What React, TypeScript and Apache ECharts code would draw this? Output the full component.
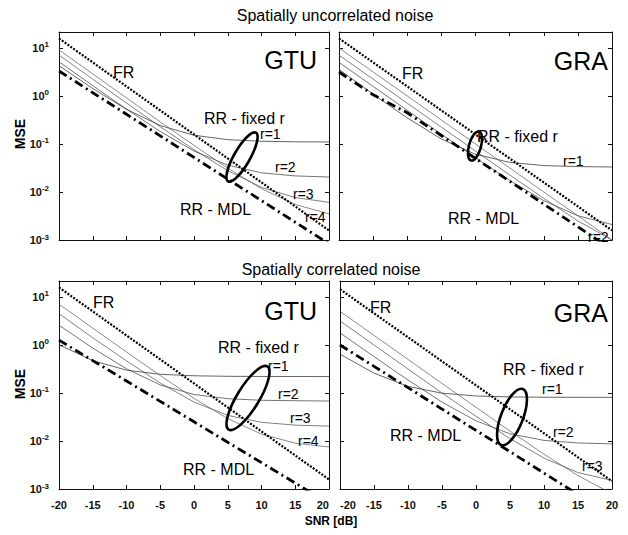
import React, { useEffect, useRef } from "react";
import * as echarts from "echarts";

// SNR grid (dB)
const snr = [-20, -15, -10, -5, 0, 5, 10, 15, 20];
const xTicks = [-20, -15, -10, -5, 0, 5, 10, 15, 20];

// Spatially uncorrelated noise, GTU
const gtuUncFR = [15.8, 5.0, 1.58, 0.5, 0.158, 0.05, 0.0158, 0.005, 0.00158];
const gtuUncMDL = [3.31, 1.17, 0.417, 0.148, 0.0525, 0.0186, 0.0066, 0.00234, 0.00083];
const gtuUncR1 = [4.28, 1.43, 0.527, 0.242, 0.152, 0.123, 0.114, 0.111, 0.11];
const gtuUncR2 = [5.15, 1.64, 0.533, 0.182, 0.0713, 0.0362, 0.0251, 0.0216, 0.0205];
const gtuUncR3 = [7.09, 2.24, 0.713, 0.229, 0.0762, 0.0278, 0.0125, 0.00764, 0.0061];
const gtuUncR4 = [9.12, 2.88, 0.912, 0.288, 0.0938, 0.0314, 0.0117, 0.0055, 0.0035];

// Spatially uncorrelated noise, GRA
const graUncFR = [15.8, 5.0, 1.58, 0.5, 0.158, 0.05, 0.0158, 0.005, 0.00158];
const graUncMDL = [3.16, 1.06, 0.447, 0.15, 0.05, 0.0168, 0.0056, 0.00188, 0.00063];
const graUncR1 = [3.58, 1.09, 0.349, 0.127, 0.061, 0.0414, 0.0355, 0.0338, 0.0332];
const graUncR2 = [5.01, 1.585, 0.503, 0.16, 0.0517, 0.0174, 0.0066, 0.0032, 0.0021];
const graUncR3 = [7.08, 2.24, 0.708, 0.224, 0.0711, 0.0227, 0.0074, 0.0025, 0.001];
const graUncR4 = [10, 3.16, 1.0, 0.316, 0.1, 0.0317, 0.01, 0.0032, 0.001];

// Spatially correlated noise, GTU
const gtuCorFR = [15.8, 5.0, 1.58, 0.5, 0.158, 0.05, 0.0158, 0.005, 0.00158];
const gtuCorMDL = [1.26, 0.473, 0.178, 0.0668, 0.0251, 0.0094, 0.00355, 0.00133, 0.0005];
const gtuCorR1 = [1.01, 0.471, 0.299, 0.245, 0.228, 0.2225, 0.2208, 0.2203, 0.22];
const gtuCorR2 = [2.58, 0.862, 0.319, 0.147, 0.093, 0.076, 0.0705, 0.069, 0.068];
const gtuCorR3 = [4.49, 1.41, 0.467, 0.161, 0.0647, 0.0341, 0.0245, 0.0214, 0.0204];
const gtuCorR4 = [7.08, 2.24, 0.715, 0.231, 0.0776, 0.0292, 0.0139, 0.009, 0.0075];

// Spatially correlated noise, GRA
const graCorFR = [14.5, 4.57, 1.45, 0.457, 0.145, 0.0457, 0.0145, 0.00457, 0.00145];
const graCorMDL = [1.0, 0.359, 0.129, 0.0462, 0.0166, 0.006, 0.00214, 0.00077, 0.00028];
const graCorR1 = [0.643, 0.259, 0.137, 0.099, 0.0866, 0.0828, 0.0816, 0.0812, 0.081];
const graCorR2 = [1.79, 0.571, 0.186, 0.0647, 0.0263, 0.0141, 0.0103, 0.0091, 0.0087];
const graCorR3 = [3.16, 1.0, 0.316, 0.1, 0.0328, 0.0112, 0.0044, 0.0022, 0.0015];
const graCorR4 = [5.01, 1.585, 0.501, 0.158, 0.0504, 0.0161, 0.0053, 0.0019, 0.0008];

const panelTitles = ["Spatially uncorrelated noise", "Spatially correlated noise"];
const panelNames = ["GTU", "GRA", "GTU", "GRA"];

const panels = [
  { fr: gtuUncFR, mdl: gtuUncMDL, rs: [gtuUncR1, gtuUncR2, gtuUncR3, gtuUncR4] },
  { fr: graUncFR, mdl: graUncMDL, rs: [graUncR1, graUncR2, graUncR3, graUncR4] },
  { fr: gtuCorFR, mdl: gtuCorMDL, rs: [gtuCorR1, gtuCorR2, gtuCorR3, gtuCorR4] },
  { fr: graCorFR, mdl: graCorMDL, rs: [graCorR1, graCorR2, graCorR3, graCorR4] },
];

const FONT = "'Liberation Sans', Arial, Helvetica, sans-serif";

export default function App() {
  const ref = useRef<HTMLDivElement>(null);
  useEffect(() => {
    if (!ref.current) return;
    const chart = echarts.init(ref.current, null, { renderer: "svg" });

    const gridPos = [
      { left: 59, top: 32, width: 270, height: 208 },
      { left: 339, top: 32, width: 273, height: 208 },
      { left: 59, top: 281, width: 270, height: 208 },
      { left: 340, top: 281, width: 272, height: 208 },
    ];

    const axisLine = { show: true, onZero: false, lineStyle: { color: "#111", width: 1 } };
    const tick = { show: true, inside: true, length: 4, lineStyle: { color: "#111" } };

    const xAxis: any[] = [];
    const yAxis: any[] = [];
    gridPos.forEach((g, i) => {
      const bottomRow = i >= 2;
      const leftCol = i % 2 === 0;
      xAxis.push({
        type: "value",
        gridIndex: i,
        min: -20,
        max: 20,
        interval: 5,
        position: "bottom",
        axisLine,
        axisTick: tick,
        splitLine: { show: false },
        axisLabel: {
          show: bottomRow,
          margin: 10,
          fontFamily: FONT,
          fontWeight: "bold",
          fontSize: 11,
          color: "#111",
          alignMaxLabel: leftCol ? "right" : "center",
          alignMinLabel: leftCol ? "center" : "left",
          formatter: (v: number) => (xTicks.includes(v) ? String(v) : ""),
        },
      });
      xAxis.push({
        type: "value",
        gridIndex: i,
        min: -20,
        max: 20,
        interval: 5,
        position: "top",
        axisLine,
        axisTick: tick,
        splitLine: { show: false },
        axisLabel: { show: false },
      });
      yAxis.push({
        type: "log",
        logBase: 10,
        gridIndex: i,
        min: 0.001,
        max: 21.5,
        position: "left",
        axisLine,
        axisTick: tick,
        splitLine: { show: false },
        axisLabel: {
          show: leftCol,
          margin: 10,
          fontFamily: FONT,
          fontWeight: "bold",
          fontSize: 11,
          color: "#111",
          formatter: (v: number) => {
            const l = Math.log10(v);
            const k = Math.round(l);
            if (Math.abs(l - k) > 1e-6) return "";
            return "10{sup|" + k + "}";
          },
          rich: {
            sup: { fontSize: 8, fontFamily: FONT, fontWeight: "bold", padding: [0, 0, 6, 0], color: "#111" },
          },
        },
      });
      yAxis.push({
        type: "log",
        logBase: 10,
        gridIndex: i,
        min: 0.001,
        max: 21.5,
        position: "right",
        axisLine,
        axisTick: tick,
        splitLine: { show: false },
        axisLabel: { show: false },
      });
    });

    const series: any[] = [];
    const rColors = ["#222", "#3a3a3a", "#4a4a4a", "#5a5a5a"];
    panels.forEach((p, i) => {
      const base = { type: "line", xAxisIndex: 2 * i, yAxisIndex: 2 * i, showSymbol: false, symbol: "none", smooth: false, clip: true };
      p.rs.forEach((r, k) => {
        series.push({
          ...base,
          name: `r=${k + 1}`,
          data: snr.map((s, j) => [s, r[j]]),
          lineStyle: { color: rColors[k], width: 0.7, type: "solid" },
        });
      });
      series.push({
        ...base,
        name: "FR",
        data: snr.map((s, j) => [s, p.fr[j]]),
        lineStyle: { color: "#000", width: 2.2, type: [2, 1.5] },
      });
      series.push({
        ...base,
        name: "RR - MDL",
        data: snr.map((s, j) => [s, p.mdl[j]]),
        lineStyle: { color: "#000", width: 2.8, type: [9, 4, 2, 4] },
      });
    });

    const txt = (text: string, x: number, y: number, size: number, align = "left", weight = "normal", rotation = 0) => ({
      type: "text",
      x,
      y,
      z: 100,
      rotation,
      style: {
        text,
        fill: "#000",
        font: `${weight} ${size}px ${FONT}`,
        textAlign: align,
        textVerticalAlign: "middle",
      },
    });

    const ell = (cx: number, cy: number, rx: number, ry: number, rot: number) => ({
      type: "ellipse",
      x: cx,
      y: cy,
      rotation: rot,
      z: 100,
      shape: { cx: 0, cy: 0, rx, ry },
      style: { fill: "none", stroke: "#000", lineWidth: 2.6 },
    });

    const graphic: any[] = [
      txt(panelTitles[0], 335, 15, 16, "center"),
      txt(panelTitles[1], 331, 269, 16, "center"),
      txt("MSE", 20, 134, 14, "center", "bold", Math.PI / 2),
      txt("MSE", 20, 384, 14, "center", "bold", Math.PI / 2),
      txt("SNR [dB]", 331, 521, 12, "center", "bold"),

      // GTU uncorrelated
      txt(panelNames[0], 317, 60, 25, "right"),
      txt("FR", 113, 72, 16),
      txt("RR - fixed r", 204, 118, 16),
      txt("r=1", 260, 134, 14),
      txt("r=2", 275, 167, 14),
      txt("r=3", 293, 194, 14),
      txt("r=4", 305, 217, 14),
      txt("RR - MDL", 180, 209, 16),
      ell(242, 157, 28, 8, 1.05),

      // GRA uncorrelated
      txt(panelNames[1], 608, 61, 25, "right"),
      txt("FR", 402, 73, 16),
      txt("RR - fixed r", 477, 136, 16),
      txt("r=1", 563, 161, 14),
      txt("r=2", 588, 237, 14),
      txt("RR - MDL", 448, 218, 16),
      ell(475, 146, 15, 6, 1.3),

      // GTU correlated
      txt(panelNames[2], 317, 311, 25, "right"),
      txt("FR", 93, 302, 16),
      txt("RR - fixed r", 218, 347, 16),
      txt("r=1", 268, 366, 14),
      txt("r=2", 278, 394, 14),
      txt("r=3", 290, 418, 14),
      txt("r=4", 298, 441, 14),
      txt("RR - MDL", 183, 469, 16),
      ell(248, 398, 37, 11, 1.02),

      // GRA correlated
      txt(panelNames[3], 608, 313, 25, "right"),
      txt("FR", 370, 307, 16),
      txt("RR - fixed r", 503, 369, 16),
      txt("r=1", 542, 389, 14),
      txt("r=2", 553, 432, 14),
      txt("r=3", 582, 466, 14),
      txt("RR - MDL", 390, 435, 16),
      ell(512, 417, 30, 11, 1.2),
    ];

    chart.setOption({
      animation: false,
      backgroundColor: "#fff",
      textStyle: { fontFamily: FONT },
      grid: gridPos.map((g) => ({ ...g, containLabel: false })),
      xAxis,
      yAxis,
      series,
      graphic,
    });
    return () => chart.dispose();
  }, []);
  return <div ref={ref} style={{ position: "fixed", left: 0, top: 0, width: 628, height: 535 }} />;
}
